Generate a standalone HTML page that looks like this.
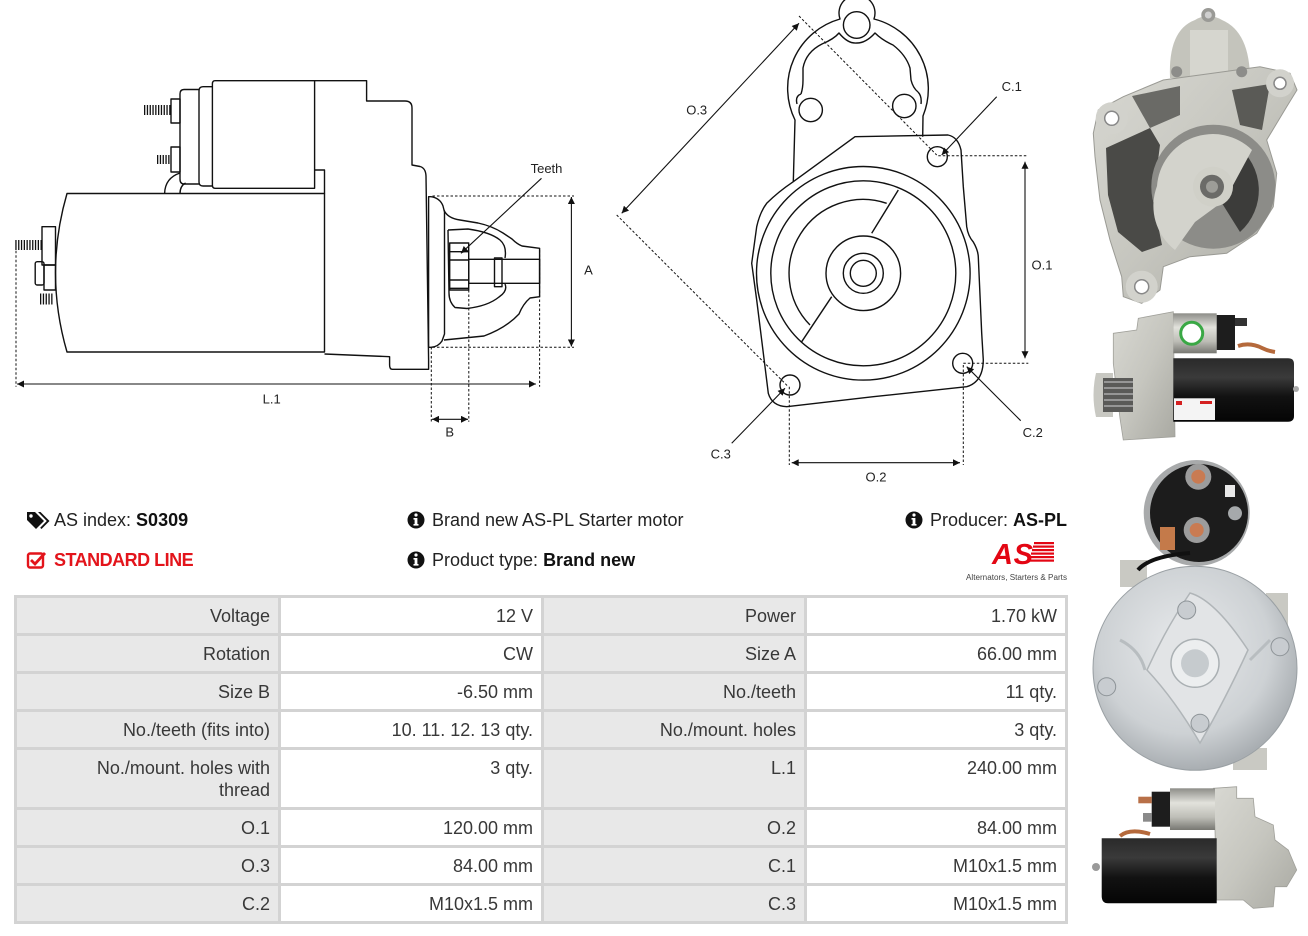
<!DOCTYPE html>
<html><head><meta charset="utf-8">
<style>
html,body{margin:0;padding:0;background:#fff;}
body{width:1308px;height:936px;position:relative;overflow:hidden;font-family:"Liberation Sans",Arial,sans-serif;}
.t{position:absolute;font-size:18px;line-height:22px;color:#222;white-space:nowrap;}
.tbl{position:absolute;left:14px;top:595px;width:1054px;box-sizing:border-box;display:grid;grid-template-columns:261px 260px 260px 258px;grid-template-rows:35px 35px 35px 35px 57px 35px 35px 35px;gap:3px;padding:3px;background:#d3d3d3;}
.tbl div{font-size:18px;line-height:22px;color:#383838;text-align:right;padding:7px 8px 0 0;box-sizing:border-box;white-space:nowrap;}
.tbl .l{background:#e8e8e8;}
.tbl .v{background:#fff;}
</style></head>
<body>
<svg width="1308" height="936" style="position:absolute;left:0;top:0" xmlns="http://www.w3.org/2000/svg">
<defs>
<marker id="ah" viewBox="0 0 10 10" refX="10" refY="5" markerWidth="9" markerHeight="7" markerUnits="userSpaceOnUse" orient="auto-start-reverse"><path d="M0,0 L10,5 L0,10 z" fill="#111"/></marker>
<linearGradient id="silv" x1="0" y1="0" x2="0" y2="1"><stop offset="0" stop-color="#8d8d88"/><stop offset="0.35" stop-color="#e2e2dc"/><stop offset="0.7" stop-color="#bdbdb6"/><stop offset="1" stop-color="#777772"/></linearGradient>
<linearGradient id="blk" x1="0" y1="0" x2="0" y2="1"><stop offset="0" stop-color="#2a2a2a"/><stop offset="0.3" stop-color="#3a3a3a"/><stop offset="0.6" stop-color="#121212"/><stop offset="1" stop-color="#050505"/></linearGradient>
<linearGradient id="alu" x1="0" y1="0" x2="1" y2="1"><stop offset="0" stop-color="#d8d8d2"/><stop offset="0.5" stop-color="#c6c6bf"/><stop offset="1" stop-color="#a9a9a2"/></linearGradient>
<radialGradient id="disc" cx="0.45" cy="0.4" r="0.6"><stop offset="0" stop-color="#e8eaec"/><stop offset="0.7" stop-color="#cdd1d4"/><stop offset="1" stop-color="#a9aeb2"/></radialGradient>
</defs>

<!-- ============ LEFT DIAGRAM ============ -->
<g fill="none" stroke="#111" stroke-width="1.4" stroke-linejoin="round">
  <path d="M67,193.5 H324.5 V352 H67 Q44,272.7 67,193.5 Z"/>
  <path d="M215,80.7 H314.6 V188.3 H215 Q212.4,188.3 212.4,185 V84 Q212.4,80.7 215,80.7 Z"/>
  <path d="M212.4,86.7 H203 Q199,86.7 199,91 V182 Q199,186 203,186 H212.4"/>
  <path d="M199,89.5 H184 Q180,89.5 180,94 V179 Q180,184 184,184 H199"/>
  <rect x="171" y="99" width="9" height="24"/>
  <rect x="171" y="147" width="9" height="25"/>
  <path d="M164.6,193.5 Q165,178 180,173 M180,193.5 Q180,186 185.6,183"/>
  <path d="M314.6,80.7 H366.6 V101 H405 Q412,101 412,108 V165 L420,166.5 Q425.7,168 426,176 L428.6,360 V369.3 H392.3 Q389.6,369.3 389.6,365 V356.7 L324.5,354"/>
  <path d="M314.6,170 H324.5 V193.5"/>
  <path d="M428.6,196.7 H431 Q440,198 443,206 L444.5,212 V334 L442,341 Q438,347 431,347.3 H428.6 Z"/>
  <path d="M444,210 Q447,218 460,220 L478,223 Q492,226 503,233 L512,239 Q517,244 522,246 L539.6,248.3 V296.7 L530,298 Q523,304 519,314 Q506,328 484,336 L444,340"/>
  <path d="M448,230 L468,229 Q490,232 500,240 Q507,246 505,258 M505,284 Q508,291 499,297 Q488,306 467,308.5 L455,307.5 Q449,302 449,293 L448,230"/>
  <rect x="449.7" y="243" width="19" height="47"/>
  <path d="M449.7,251.7 H468.7 M449.7,260 H468.7 M449.7,280 H468.7 M449.7,288.3 H468.7"/>
  <rect x="468.8" y="259.3" width="70.8" height="24"/>
  <rect x="494.5" y="258" width="7.5" height="28.7"/>
  <rect x="42" y="226.7" width="13.5" height="38.3"/>
  <rect x="44" y="265" width="11.5" height="25"/>
  <rect x="35.2" y="261.7" width="8.8" height="23.3" rx="2"/>
</g>
<g stroke="#111" fill="none">
  <line x1="144" y1="110" x2="171" y2="110" stroke-width="10" stroke-dasharray="1.3 1.5"/>
  <line x1="157" y1="159.5" x2="171" y2="159.5" stroke-width="9" stroke-dasharray="1.3 1.5"/>
  <line x1="15.3" y1="245" x2="42" y2="245" stroke-width="10" stroke-dasharray="1.3 1.5"/>
  <line x1="40" y1="299" x2="53.6" y2="299" stroke-width="11" stroke-dasharray="1.3 1.5"/>
</g>
<!-- dashed dims left -->
<g stroke="#111" stroke-width="1" stroke-dasharray="2.5 2" fill="none">
  <line x1="16" y1="241.7" x2="16" y2="386.7"/>
  <line x1="539.6" y1="250" x2="539.6" y2="386.7"/>
  <line x1="432.5" y1="196" x2="574" y2="196"/>
  <line x1="432.5" y1="347.3" x2="574" y2="347.3"/>
  <line x1="431.3" y1="347" x2="431.3" y2="421.7"/>
  <line x1="468.8" y1="290" x2="468.8" y2="421.7"/>
</g>
<g stroke="#111" stroke-width="1.1" fill="none">
  <line x1="17" y1="384" x2="536" y2="384" marker-start="url(#ah)" marker-end="url(#ah)"/>
  <line x1="571.4" y1="197" x2="571.4" y2="346.5" marker-start="url(#ah)" marker-end="url(#ah)"/>
  <line x1="432" y1="419.3" x2="468" y2="419.3" marker-start="url(#ah)" marker-end="url(#ah)"/>
  <line x1="541.5" y1="178.3" x2="461" y2="253.3" marker-end="url(#ah)"/>
</g>
<g font-family="Liberation Sans, sans-serif" font-size="13" fill="#222" text-anchor="middle" dominant-baseline="central">
  <text x="271.7" y="399">L.1</text>
  <text x="588.5" y="270">A</text>
  <text x="449.7" y="432">B</text>
  <text x="546.5" y="168.3">Teeth</text>
</g>

<!-- ============ MIDDLE DIAGRAM ============ -->
<g fill="none" stroke="#111" stroke-width="1.4" stroke-linejoin="round">
  <path d="M793.3,181.7 L795,120 A72,72 0 0 1 840,19 A18,18 0 1 1 874,19 A72,72 0 0 1 923,116 L922.7,136.7"/>
  <circle cx="856.7" cy="25" r="13.3"/>
  <path d="M801,94 Q803,88 803,80 L803,68 Q806,52 822,44 Q834,39 839,33 Q848,44 857,43 Q866,43 875,33 Q882,40 893,45 Q906,55 910,68 L911,80 Q913,88 918,92"/>
  <path d="M801,94 Q795,96 797,104 M918,92 Q922,96 921,104"/>
  <circle cx="810.7" cy="110" r="11.7"/>
  <circle cx="904.3" cy="106" r="11.7"/>
  <path d="M793.3,181.7 L855,136.7 L948,135 Q958,137 961,150 L963.3,186.7 L966.7,226.7 Q968,236 973.3,242 Q978,250 978.3,257 L981.7,333.3 L983.3,360 Q983,382 966.7,386.7 L873.3,396.7 L786.7,406.7 Q772,406 768.3,393.3 L765,366.7 L756.7,300 L751.7,263.3 L756.7,226.7 Q760,212 766.7,203.3 Q778,192 793.3,181.7 Z"/>
  <circle cx="863.3" cy="273.3" r="106.8"/>
  <circle cx="863.3" cy="273.3" r="92.5"/>
  <path d="M886.7,203.3 A74,74 0 0 0 810,325"/>
  <line x1="898.3" y1="190" x2="871.7" y2="233.3"/>
  <line x1="831.7" y1="296.7" x2="801.7" y2="341.7"/>
  <circle cx="863.3" cy="273.3" r="37.3"/>
  <circle cx="863.3" cy="273.3" r="20"/>
  <circle cx="863.3" cy="273.3" r="13"/>
  <circle cx="937.3" cy="156.7" r="10"/>
  <circle cx="962.7" cy="363.3" r="10"/>
  <circle cx="790" cy="385" r="10"/>
</g>
<g stroke="#111" stroke-width="1" stroke-dasharray="2.5 2" fill="none">
  <line x1="799" y1="16" x2="936.7" y2="155"/>
  <line x1="616.7" y1="215" x2="788.3" y2="386.7"/>
  <line x1="938.3" y1="155.7" x2="1028.3" y2="155.7"/>
  <line x1="963.3" y1="363.3" x2="1028.3" y2="363.3"/>
  <line x1="789.3" y1="386.7" x2="789.3" y2="465"/>
  <line x1="963.3" y1="365" x2="963.3" y2="465"/>
</g>
<g stroke="#111" stroke-width="1.1" fill="none">
  <line x1="799" y1="23.3" x2="621.7" y2="213.3" marker-start="url(#ah)" marker-end="url(#ah)"/>
  <line x1="1025" y1="161.7" x2="1025" y2="358.3" marker-start="url(#ah)" marker-end="url(#ah)"/>
  <line x1="791.7" y1="462.7" x2="960" y2="462.7" marker-start="url(#ah)" marker-end="url(#ah)"/>
  <line x1="996.7" y1="96.7" x2="941.7" y2="155" marker-end="url(#ah)"/>
  <line x1="1020.7" y1="420.7" x2="966.7" y2="366.7" marker-end="url(#ah)"/>
  <line x1="731.7" y1="443.3" x2="785" y2="388.3" marker-end="url(#ah)"/>
</g>
<g font-family="Liberation Sans, sans-serif" font-size="13" fill="#222" text-anchor="middle" dominant-baseline="central">
  <text x="696.7" y="110">O.3</text>
  <text x="1042" y="265">O.1</text>
  <text x="876" y="477">O.2</text>
  <text x="1011.7" y="86.7">C.1</text>
  <text x="1032.7" y="432.7">C.2</text>
  <text x="720.7" y="454">C.3</text>
</g>

<!-- ============ PHOTO 1 (front housing) ============ -->
<g>
  <path d="M1170,78 Q1168,30 1195,20 Q1208,12 1222,20 Q1250,32 1250,80 Z" fill="#c4c4bc"/>
  <path d="M1190,30 H1228 V80 H1190 Z" fill="#d6d6cf"/>
  <circle cx="1208.3" cy="15" r="7" fill="#9a9a96"/><circle cx="1208.3" cy="15" r="3.5" fill="#cfcfcf"/>
  <path d="M1098.3,110 L1123.3,96.7 L1163.3,80 L1260,66.7 L1290,73.3 L1297,90 L1286.7,106.7 L1266.7,140 L1276.7,173.3 L1273.3,206.7 L1256.7,233.3 L1226.7,253.3 L1190,256.7 L1163.3,266.7 L1160,290 L1141.7,303.3 L1123.3,296.7 L1121.7,276.7 L1110,240 L1100,200 L1095,156.7 L1093.3,133.3 Z" fill="url(#alu)" stroke="#9a9a94" stroke-width="1"/>
  <path d="M1106,148 L1150,128 L1160,145 L1153,200 L1162,245 L1142,252 L1118,232 L1108,195 Z" fill="#4a4a47"/>
  <path d="M1132,96 L1180,86 L1180,115 L1150,128 Z" fill="#6a6a66"/>
  <path d="M1232,90 L1270,84 L1262,130 L1240,125 Z" fill="#5a5a56"/>
  <circle cx="1213.3" cy="186.7" r="62" fill="#8c8c88"/>
  <path d="M1236,145 A56,56 0 0 1 1240,232 L1220,200 Z" fill="#3c3c3a"/>
  <path d="M1157,186 A56,56 0 0 1 1252,150 L1225,200 L1195,222 L1175,250 A56,56 0 0 1 1157,186 Z" fill="#d3d3cc"/>
  <circle cx="1213" cy="186.7" r="20" fill="#d0d0c8"/>
  <circle cx="1212" cy="186.7" r="12" fill="#6b6b68"/>
  <circle cx="1212" cy="186.7" r="6" fill="#9d9d98"/>
  <circle cx="1111.7" cy="118.3" r="16" fill="#d2d2cc"/><circle cx="1111.7" cy="118.3" r="7" fill="#fff" stroke="#888" stroke-width="1.5"/>
  <circle cx="1280" cy="83.3" r="14" fill="#d2d2cc"/><circle cx="1280" cy="83.3" r="6" fill="#fff" stroke="#888" stroke-width="1.5"/>
  <circle cx="1141.7" cy="286.7" r="16" fill="#d2d2cc"/><circle cx="1141.7" cy="286.7" r="7" fill="#fff" stroke="#888" stroke-width="1.5"/>
  <circle cx="1176.7" cy="71.7" r="5.5" fill="#8d8d8a"/><circle cx="1241.7" cy="71.7" r="5.5" fill="#8d8d8a"/>
</g>

<!-- ============ PHOTO 2 (side) ============ -->
<g>
  <path d="M1113.3,333.3 L1136.7,330 L1138.3,318.3 L1173.3,311.7 L1175,436.7 L1123.3,440 L1120,418.3 L1113.3,363.3 Z" fill="url(#alu)" stroke="#a0a09a" stroke-width="0.8"/>
  <path d="M1096,373 H1113 V417 H1096 Q1091,395 1096,373 Z" fill="#c8c8c2"/>
  <rect x="1103" y="378" width="30" height="34" fill="#5a5a58"/>
  <path d="M1104,382 H1133 M1104,388 H1133 M1104,394 H1133 M1104,400 H1133 M1104,406 H1133" stroke="#aaa" stroke-width="1.5"/>
  <rect x="1173.3" y="313.3" width="43.4" height="40" fill="url(#silv)"/>
  <circle cx="1191.7" cy="333.3" r="11" fill="#fff" stroke="#3aa845" stroke-width="3"/>
  <rect x="1216.7" y="315" width="18.3" height="35" fill="#1d1d1d"/>
  <rect x="1235" y="318" width="12" height="8" fill="#333"/>
  <path d="M1238,346 Q1250,342 1262,348 Q1268,351 1275,352" stroke="#b5693b" stroke-width="4" fill="none"/>
  <path d="M1173.3,358.3 H1288 Q1294,358.3 1294,364 V416 Q1294,421.7 1288,421.7 H1173.3 Z" fill="url(#blk)"/>
  <circle cx="1296" cy="389" r="3" fill="#aaa"/>
  <rect x="1174" y="398.3" width="41" height="21.7" fill="#f4f4f4"/>
  <rect x="1176" y="401" width="6" height="4" fill="#d42020"/>
  <rect x="1200" y="401" width="12" height="3" fill="#d42020"/>
</g>

<!-- ============ PHOTO 3 (rear) ============ -->
<g>
  <rect x="1120" y="560" width="27" height="27" fill="#c9c9c3"/>
  <rect x="1266" y="593" width="22" height="37" fill="#c9c9c3"/>
  <rect x="1233" y="748" width="34" height="22" fill="#c9c9c3"/>
  <circle cx="1196.7" cy="513" r="53" fill="#a8aaab"/>
  <circle cx="1199" cy="513" r="49" fill="#1c1c1c"/>
  <circle cx="1195" cy="668.3" r="102" fill="url(#disc)" stroke="#9aa0a4" stroke-width="1"/>
  <path d="M1190,593 Q1215,600 1248,650 Q1225,700 1200,743 Q1175,700 1147,670 Q1165,630 1190,593 Z" fill="#e2e4e6" stroke="#b0b5b8" stroke-width="1.5"/>
  <path d="M1120,640 Q1140,650 1145,670 M1270,640 Q1255,655 1250,660" stroke="#b8bdc0" stroke-width="3" fill="none"/>
  <circle cx="1195" cy="663.3" r="24" fill="#eceeef" stroke="#aab0b3" stroke-width="1.5"/>
  <circle cx="1195" cy="663.3" r="14" fill="#c6cbce"/>
  <circle cx="1186.7" cy="610" r="9" fill="#c8ccd0" stroke="#8e9498"/>
  <circle cx="1200" cy="723.3" r="9" fill="#c8ccd0" stroke="#8e9498"/>
  <circle cx="1280" cy="646.7" r="9" fill="#c8ccd0" stroke="#8e9498"/>
  <circle cx="1106.7" cy="686.7" r="9" fill="#c8ccd0" stroke="#8e9498"/>
  <path d="M1138,570 Q1150,556 1190,553" stroke="#111" stroke-width="4" fill="none"/>
  <rect x="1160" y="527" width="15" height="23" fill="#c47a4a"/>
  <circle cx="1198.3" cy="476.7" r="13" fill="#9c9c9c"/><circle cx="1198.3" cy="476.7" r="7" fill="#c97b52"/>
  <circle cx="1196.7" cy="530" r="13" fill="#9c9c9c"/><circle cx="1196.7" cy="530" r="7" fill="#c97b52"/>
  <circle cx="1235" cy="513.3" r="7" fill="#a6a9ab"/>
  <rect x="1225" y="485" width="10" height="12" fill="#e8e8e8"/>
</g>

<!-- ============ PHOTO 4 (side) ============ -->
<g>
  <path d="M1213.3,788.3 L1236.7,786.7 L1236.7,798.3 L1253.3,798.3 L1255,816.7 L1273.3,825 L1275,840 L1288.3,850 L1296.7,870 L1286.7,886.7 L1275,886.7 L1273.3,906.7 L1253.3,908.3 L1243.3,900 L1216.7,900 L1215,830 Z" fill="url(#alu)" stroke="#a0a09a" stroke-width="0.8"/>
  <path d="M1101.7,838.3 H1216.7 V903.3 H1108 Q1101.7,903.3 1101.7,896 Z" fill="url(#blk)"/>
  <circle cx="1096" cy="867" r="4" fill="#9a9a9a"/>
  <rect x="1170" y="788.3" width="45" height="41.7" fill="url(#silv)"/>
  <rect x="1151.7" y="791.7" width="18.3" height="35" fill="#1d1d1d"/>
  <rect x="1138.3" y="796.7" width="13.4" height="6.6" fill="#b87048"/>
  <rect x="1143" y="813" width="8.7" height="8.7" fill="#8a8a8a"/>
  <path d="M1120,836 Q1130,828 1150,834" stroke="#b5693b" stroke-width="4" fill="none"/>
</g>

<!-- ============ HEADER ICONS ============ -->
<g fill="#111">
  <path d="M27,512 H35 L44,521 L36,529 L27,520 Z"/>
  <path d="M38,512 H40.5 L49.5,521 L41.5,529 L40.2,527.7 L46.8,521 Z"/>
  <circle cx="31" cy="516" r="1.7" fill="#fff"/>
</g>
<g>
  <rect x="28" y="553.5" width="15" height="14" rx="2" fill="none" stroke="#e3141b" stroke-width="2.4"/>
  <path d="M31,560 L35,564 L45,553" fill="none" stroke="#e3141b" stroke-width="2.8"/>
</g>
<g>
  <circle cx="416" cy="520" r="8.5" fill="#111"/><rect x="414.6" y="518" width="2.8" height="7" fill="#fff"/><rect x="413.5" y="524" width="5" height="1.6" fill="#fff"/><rect x="413.5" y="518" width="3" height="1.6" fill="#fff"/><circle cx="416" cy="515" r="1.6" fill="#fff"/>
  <circle cx="416" cy="560" r="8.5" fill="#111"/><rect x="414.6" y="558" width="2.8" height="7" fill="#fff"/><rect x="413.5" y="564" width="5" height="1.6" fill="#fff"/><rect x="413.5" y="558" width="3" height="1.6" fill="#fff"/><circle cx="416" cy="555" r="1.6" fill="#fff"/>
  <circle cx="914" cy="520" r="8.5" fill="#111"/><rect x="912.6" y="518" width="2.8" height="7" fill="#fff"/><rect x="911.5" y="524" width="5" height="1.6" fill="#fff"/><rect x="911.5" y="518" width="3" height="1.6" fill="#fff"/><circle cx="914" cy="515" r="1.6" fill="#fff"/>
</g>
<!-- AS logo -->
<g>
  <text x="992" y="564" font-family="Liberation Sans, sans-serif" font-size="29" font-weight="bold" font-style="italic" fill="#e30613" textLength="41">AS</text>
  <g fill="#e30613">
    <rect x="1034" y="542" width="20" height="2.2"/>
    <rect x="1033" y="545.5" width="21" height="2.2"/>
    <rect x="1032" y="549" width="22" height="2.2"/>
    <rect x="1031" y="552.5" width="23" height="2.2"/>
    <rect x="1030" y="556" width="24" height="2.2"/>
    <rect x="1029" y="559.5" width="25" height="2.2"/>
  </g>
  <text x="966" y="580" font-family="Liberation Sans, sans-serif" font-size="8" fill="#444" textLength="101" lengthAdjust="spacingAndGlyphs">Alternators, Starters &amp; Parts</text>
</g>
</svg>

<div class="t" style="left:54px;top:509px;">AS index: <b style="color:#111">S0309</b></div>
<div class="t" style="left:54px;top:549px;color:#e3141b;font-weight:bold;letter-spacing:-0.5px;">STANDARD LINE</div>
<div class="t" style="left:432px;top:509px;">Brand new AS-PL Starter motor</div>
<div class="t" style="left:432px;top:549px;">Product type: <b style="color:#111">Brand new</b></div>
<div class="t" style="right:241px;top:509px;">Producer: <b style="color:#111">AS-PL</b></div>

<div class="tbl">
  <div class="l">Voltage</div><div class="v">12 V</div><div class="l">Power</div><div class="v">1.70 kW</div>
  <div class="l">Rotation</div><div class="v">CW</div><div class="l">Size A</div><div class="v">66.00 mm</div>
  <div class="l">Size B</div><div class="v">-6.50 mm</div><div class="l">No./teeth</div><div class="v">11 qty.</div>
  <div class="l">No./teeth (fits into)</div><div class="v">10. 11. 12. 13 qty.</div><div class="l">No./mount. holes</div><div class="v">3 qty.</div>
  <div class="l">No./mount. holes with<br>thread</div><div class="v">3 qty.</div><div class="l">L.1</div><div class="v">240.00 mm</div>
  <div class="l">O.1</div><div class="v">120.00 mm</div><div class="l">O.2</div><div class="v">84.00 mm</div>
  <div class="l">O.3</div><div class="v">84.00 mm</div><div class="l">C.1</div><div class="v">M10x1.5 mm</div>
  <div class="l">C.2</div><div class="v">M10x1.5 mm</div><div class="l">C.3</div><div class="v">M10x1.5 mm</div>
</div>
</body></html>
